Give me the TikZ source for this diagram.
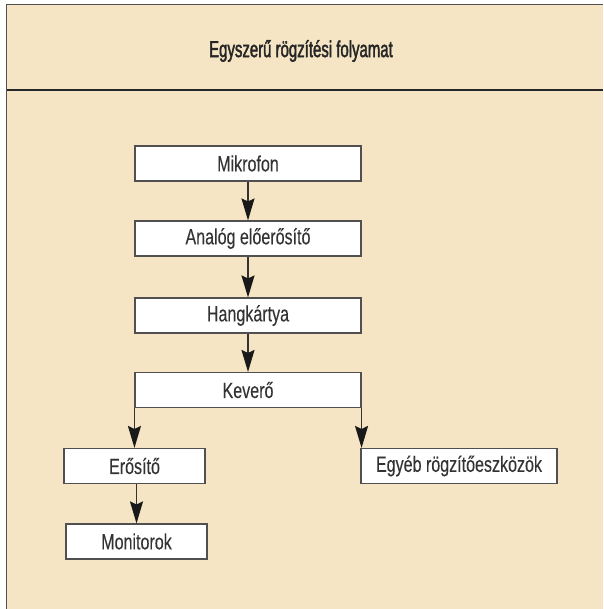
\documentclass[tikz,border=0pt]{standalone}
\usepackage{fontspec}
\setmainfont{Liberation Sans}[FakeStretch=0.73, FakeBold=0.15]
\newfontfamily\titlefont{Liberation Sans}[FakeStretch=0.65, FakeBold=1.8]
\usetikzlibrary{arrows.meta}
\definecolor{panelbg}{HTML}{F5E5C4}
\definecolor{framegray}{HTML}{505050}
\definecolor{inkgray}{HTML}{333333}
\tikzset{
  flowbox/.style={draw=framegray, line width=1.1pt, fill=white, inner sep=0pt,
    minimum height=35pt, text=inkgray, font=\fontsize{22}{26}\selectfont},
  flowarrow/.style={draw=black!80, line width=1.5pt,
    -{Stealth[length=22pt, width=13pt, inset=3pt, color=black!90]}}
}
\begin{document}
\begin{tikzpicture}[x=1pt, y=-1pt]
  \useasboundingbox (0,0) rectangle (603,609);
  \fill[white] (0,0) rectangle (603,609);
  % panel with frame on the left and top edges
  \fill[panelbg] (6.5,4.5) rectangle (603,609);
  \draw[framegray, line width=1.6pt] (6.5,609) -- (6.5,4.5) -- (603,4.5);
  \draw[black!85, line width=1.6pt] (6.5,90) -- (603,90);
  \node[text=black!85, font=\titlefont\fontsize{23}{27}\selectfont] (title) at (301,51) {Egyszerű rögzítési folyamat};

  % flow boxes
  \node[flowbox, minimum width=226pt] (mik) at (248,163.5) {Mikrofon};
  \node[flowbox, minimum width=226pt] (ana) at (248,238.5) {Analóg előerősítő};
  \node[flowbox, minimum width=226pt] (hang) at (248,315.5) {Hangkártya};
  \node[flowbox, minimum width=226pt] (kev) at (248,390) {Keverő};
  \node[flowbox, minimum width=141pt] (ero) at (134.5,466) {Erősítő};
  \node[flowbox, minimum width=196pt] (egy) at (459,466) {Egyéb rögzítőeszközök};
  \node[flowbox, minimum width=141pt] (mon) at (136.5,541.5) {Monitorok};

  % connectors
  \draw[flowarrow] (mik.south) -- (ana.north);
  \draw[flowarrow] (ana.south) -- (hang.north);
  \draw[flowarrow] (hang.south) -- (kev.north);
  \draw[flowarrow] (kev.south west) -- (kev.south west |- ero.north);
  \draw[flowarrow] (kev.south east) -- (kev.south east |- egy.north);
  \draw[flowarrow] (mon.north |- ero.south) -- (mon.north);
\end{tikzpicture}
\end{document}
